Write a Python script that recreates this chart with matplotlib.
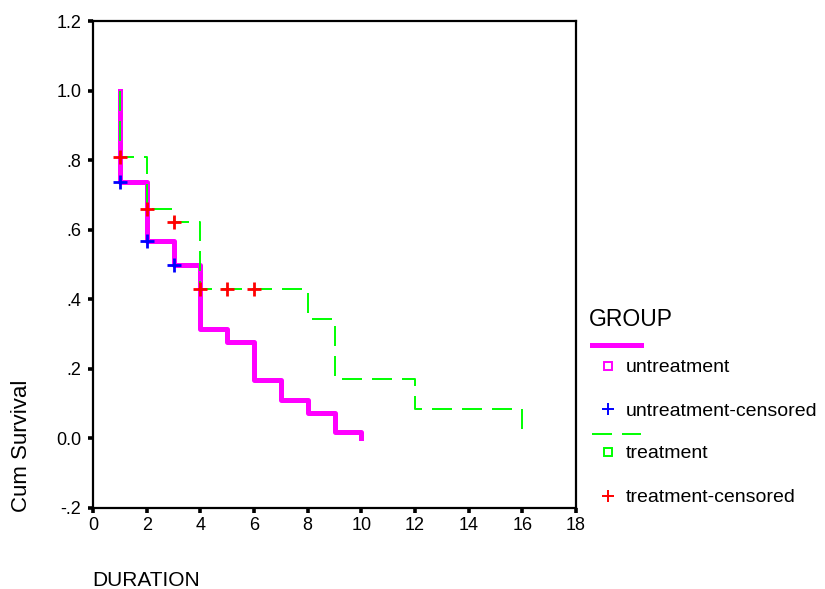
import matplotlib
matplotlib.use('Agg')
import matplotlib.pyplot as plt
from matplotlib.lines import Line2D

plt.rcParams['font.family'] = ['Liberation Sans', 'DejaVu Sans']
plt.rcParams['lines.scale_dashes'] = False

# Kaplan-Meier curves
untreat_time = [1, 1, 2, 3, 4, 5, 6, 7, 8, 9, 10]
untreat_surv = [1.0, 0.737, 0.567, 0.500, 0.316, 0.278, 0.167, 0.111, 0.074, 0.018, 0.0]
untreat_cens_time = [1, 2, 3]
untreat_cens_surv = [0.737, 0.567, 0.500]

treat_time = [1, 1, 2, 3, 4, 8, 9, 12, 16]
treat_surv = [1.0, 0.81, 0.66, 0.622, 0.43, 0.344, 0.172, 0.086, 0.0]
treat_cens_time = [1, 2, 3, 4, 5, 6]
treat_cens_surv = [0.81, 0.66, 0.622, 0.43, 0.43, 0.43]

xticks = list(range(0, 19, 2))
yticks = [-0.2, 0.0, 0.2, 0.4, 0.6, 0.8, 1.0, 1.2]
yticklabels = ['-.2', '0.0', '.2', '.4', '.6', '.8', '1.0', '1.2']
legend_labels = ['untreatment', 'untreatment-censored', 'treatment', 'treatment-censored']

W, H = 825, 589
MAG, GRN, BLU, RED = '#FF00FF', '#00FF00', '#0000FF', '#FF0000'
DASH = (0, (14.4, 7.2))

def px(x, y):
    return x / W, 1 - y / H

fig = plt.figure(figsize=(W / 100, H / 100), dpi=100)
ax = fig.add_axes([93 / W, (H - 508) / H, 483 / W, 487 / H])

ax.step(untreat_time, untreat_surv, where='post', color=MAG, lw=3.6, zorder=2)
ax.step(treat_time, treat_surv, where='post', color=GRN, lw=1.4, ls=DASH, zorder=3)
ax.plot(untreat_cens_time, untreat_cens_surv, '+', color=BLU, ms=9.5, mew=2, zorder=4)
ax.plot(treat_cens_time, treat_cens_surv, '+', color=RED, ms=9.5, mew=2, zorder=4)

ax.set_xlim(0, 18)
ax.set_ylim(-0.2, 1.2)
ax.set_xticks(xticks)
ax.set_yticks(yticks)
ax.set_yticklabels(yticklabels)
ax.tick_params(length=3.5, width=2.6, labelsize=13, pad=5)
ax.tick_params(axis='x', pad=3)
for s in ax.spines.values():
    s.set_linewidth(1.6)

# axis titles sit at the start of each axis
fig.text(*px(22, 512), 'Cum Survival', rotation=90, ha='center', va='bottom', fontsize=16)
fig.text(*px(92, 581), 'DURATION', ha='left', va='center', fontsize=15)

# legend drawn in figure pixels, SPSS style
fig.text(*px(589, 319), 'GROUP', ha='left', va='center', fontsize=16.5)
fig.add_artist(Line2D([592 / W, 641 / W], [1 - 345 / H] * 2, color=MAG, lw=3.6))
fig.add_artist(Line2D([592 / W, 641 / W], [1 - 434 / H] * 2, color=GRN, lw=1.4, ls=DASH))
marks = [('s', MAG, 366), ('+', BLU, 409), ('s', GRN, 452), ('+', RED, 496)]
for (m, c, y), lab in zip(marks, legend_labels):
    if m == 's':
        fig.add_artist(Line2D([608 / W], [1 - y / H], marker='s', ms=5.5, mfc='none', mec=c, mew=1.4, ls='none'))
    else:
        fig.add_artist(Line2D([608 / W], [1 - y / H], marker='+', ms=9, mec=c, mew=1.4, ls='none'))
    fig.text(*px(626, y + 2), lab, ha='left', va='center', fontsize=14)

fig.savefig('out.png', dpi=100)
